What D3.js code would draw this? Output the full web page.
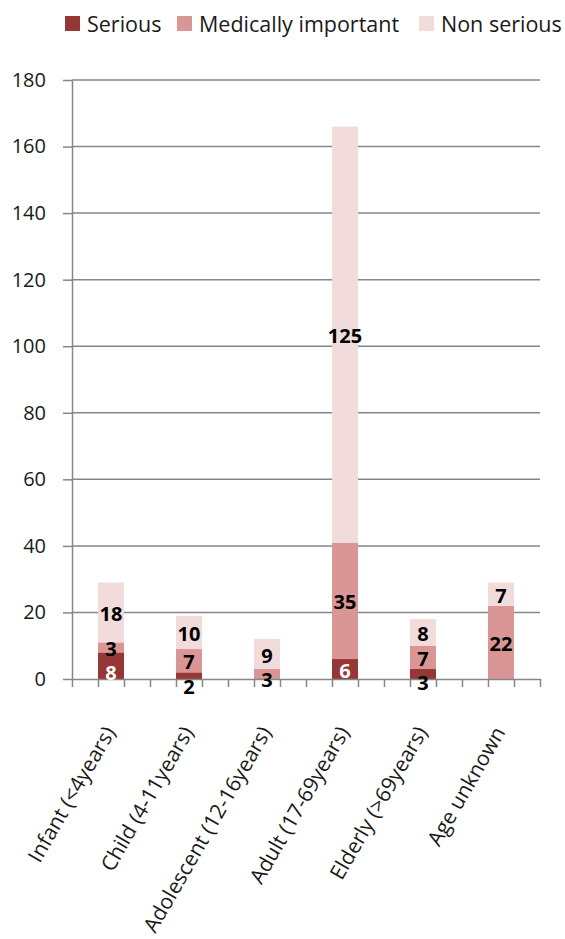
<!DOCTYPE html>
<html>
<head>
<meta charset="utf-8">
<script src="https://cdn.jsdelivr.net/npm/d3@7/dist/d3.min.js"></script>
<style>
  html, body { margin: 0; padding: 0; background: #fff; }
  svg { display: block; font-family: "Open Sans", "Noto Sans", sans-serif; }
</style>
</head>
<body>
<svg id="chart" width="565" height="939"></svg>
<script>
// Reports by age group, stacked by seriousness
const categories = ["Infant (<4years)", "Child (4-11years)", "Adolescent (12-16years)",
                    "Adult (17-69years)", "Elderly (>69years)", "Age unknown"];
const serious    = [8, 2, 0, 6, 3, 0];
const medical    = [3, 7, 3, 35, 7, 22];
const nonSerious = [18, 10, 9, 125, 8, 7];
const seriesNames = ["Serious", "Medically important", "Non serious"];
const seriesColors = ["#953735", "#D99694", "#F2DCDB"];
const yTicks = [0, 20, 40, 60, 80, 100, 120, 140, 160, 180];

const svg = d3.select("#chart");
const plot = { left: 72, right: 540, top: 80, bottom: 679 };

const rows = categories.map((c, i) => ({
  cat: c, "Serious": serious[i], "Medically important": medical[i], "Non serious": nonSerious[i]
}));
const stacked = d3.stack().keys(seriesNames)(rows);

const x = d3.scaleBand().domain(categories)
  .range([plot.left, plot.right]).paddingInner(2 / 3).paddingOuter(1 / 3);
const slots = d3.scaleLinear().domain([0, categories.length * 3]).range([plot.left, plot.right]);
const y = d3.scaleLinear().domain([0, 180]).range([plot.bottom, plot.top]);

const axisColor = "#868686";

// horizontal gridlines
svg.append("g")
  .selectAll("line").data(yTicks.filter(t => t > 0)).join("line")
  .attr("x1", plot.left).attr("x2", plot.right)
  .attr("y1", d => y(d)).attr("y2", d => y(d))
  .attr("stroke", axisColor).attr("stroke-width", 1.5);

// y axis
const yAxis = svg.append("g").attr("transform", `translate(${plot.left},0)`)
  .call(d3.axisLeft(y).tickValues(yTicks).tickSize(9).tickPadding(17).tickSizeOuter(0));
yAxis.select(".domain").attr("stroke", axisColor).attr("stroke-width", 1.5);
yAxis.selectAll(".tick line").attr("stroke", axisColor).attr("stroke-width", 1.5);
yAxis.selectAll(".tick text").attr("fill", "#1a1a1a")
  .style("font-size", "20px").style("font-family", "'Open Sans', sans-serif");

// stacked bars
svg.append("g").selectAll("g").data(stacked).join("g")
  .attr("fill", (d, i) => seriesColors[i])
  .selectAll("rect").data(d => d).join("rect")
  .attr("x", d => x(d.data.cat))
  .attr("width", x.bandwidth())
  .attr("y", d => y(d[1]))
  .attr("height", d => y(d[0]) - y(d[1]));

// x axis with a tick at every slot boundary
const xAxis = svg.append("g").attr("transform", `translate(0,${plot.bottom})`)
  .call(d3.axisBottom(slots).ticks(categories.length * 3).tickFormat("").tickSize(8).tickSizeOuter(0));
xAxis.select(".domain").attr("stroke", axisColor).attr("stroke-width", 1.5);
xAxis.selectAll(".tick line").attr("stroke", axisColor).attr("stroke-width", 1.5);

// category labels, rotated
svg.append("g").selectAll("text").data(categories).join("text")
  .attr("transform", d => `translate(${x(d) + x.bandwidth() / 2 + 5},732) rotate(-60)`)
  .attr("text-anchor", "end")
  .attr("fill", "#1a1a1a")
  .style("font-size", "21px")
  .text(d => d);

// data labels: centered in each segment, pushed down when crowded
const labelGap = 24.5;
const labels = [];
categories.forEach((c, ci) => {
  let prev = -Infinity;
  for (let si = stacked.length - 1; si >= 0; si--) {
    const seg = stacked[si][ci];
    const v = seg[1] - seg[0];
    if (v <= 0) continue;
    const yc = (y(seg[0]) + y(seg[1])) / 2 + 1.5;
    const yy = Math.max(yc, prev + labelGap);
    prev = yy;
    const segH = y(seg[0]) - y(seg[1]);
    const fill = (si === 0 && segH >= 18) ? "#ffffff" : "#000000";
    labels.push({ x: x(c) + x.bandwidth() / 2, y: yy, v, fill });
  }
});
svg.append("g").selectAll("text").data(labels).join("text")
  .attr("x", d => d.x).attr("y", d => d.y)
  .attr("dy", "0.35em")
  .attr("text-anchor", "middle")
  .attr("fill", d => d.fill)
  .style("font-size", "20px").style("font-weight", "bold")
  .text(d => d.v);

// legend
const legendX = [65, 177, 419];
const lg = svg.append("g").selectAll("g").data(seriesNames).join("g")
  .attr("transform", (d, i) => `translate(${legendX[i]},16)`);
lg.append("rect").attr("width", 15).attr("height", 15).attr("fill", (d, i) => seriesColors[i]);
lg.append("text").attr("x", 22).attr("y", 15.5)
  .attr("fill", "#1a1a1a").style("font-size", "21.5px").text(d => d);
</script>
</body>
</html>
